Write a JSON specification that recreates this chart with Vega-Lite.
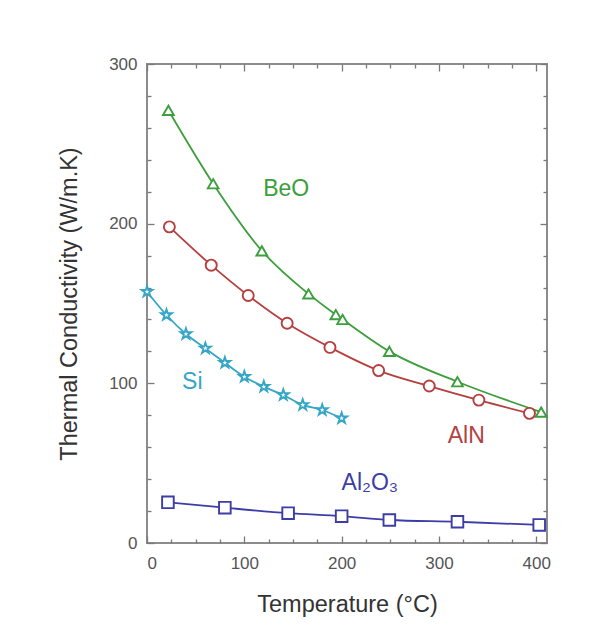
{
  "$schema": "https://vega.github.io/schema/vega-lite/v6.json",
  "width": 400,
  "height": 479,
  "autosize": {"type": "none"},
  "padding": {"left": 147, "top": 64, "right": 48, "bottom": 95},
  "background": "white",
  "config": {
    "font": "Liberation Sans",
    "view": {"stroke": "#8c8c8c", "strokeWidth": 2},
    "axis": {"domain": false, "grid": false, "tickColor": "#7a7a7a", "tickWidth": 1.3, "labelColor": "#555555", "labelFontSize": 17, "titleColor": "#333333", "titleFontSize": 23.5, "titleFontWeight": "normal"}
  },
  "datasets": {
    "series": [
      {"series": "BeO", "t": 22, "k": 271},
      {"series": "BeO", "t": 68, "k": 225},
      {"series": "BeO", "t": 118, "k": 183},
      {"series": "BeO", "t": 166, "k": 156},
      {"series": "BeO", "t": 194, "k": 143},
      {"series": "BeO", "t": 201, "k": 140},
      {"series": "BeO", "t": 249, "k": 120},
      {"series": "BeO", "t": 319, "k": 101},
      {"series": "BeO", "t": 405, "k": 82},
      {"series": "AlN", "t": 23, "k": 198},
      {"series": "AlN", "t": 66, "k": 174},
      {"series": "AlN", "t": 104, "k": 155},
      {"series": "AlN", "t": 144, "k": 137.6},
      {"series": "AlN", "t": 188, "k": 122.5},
      {"series": "AlN", "t": 238, "k": 108},
      {"series": "AlN", "t": 290, "k": 98.3},
      {"series": "AlN", "t": 341, "k": 89.5},
      {"series": "AlN", "t": 393, "k": 81.2},
      {"series": "Si", "t": 0, "k": 157.4},
      {"series": "Si", "t": 20, "k": 142.8},
      {"series": "Si", "t": 40, "k": 130.9},
      {"series": "Si", "t": 60, "k": 121.9},
      {"series": "Si", "t": 80, "k": 112.9},
      {"series": "Si", "t": 100, "k": 104.1},
      {"series": "Si", "t": 120, "k": 97.9},
      {"series": "Si", "t": 140, "k": 92.7},
      {"series": "Si", "t": 160, "k": 86.5},
      {"series": "Si", "t": 180, "k": 83.3},
      {"series": "Si", "t": 200, "k": 78.1},
      {"series": "Al₂O₃", "t": 21.5, "k": 25.5},
      {"series": "Al₂O₃", "t": 80, "k": 22.1},
      {"series": "Al₂O₃", "t": 145, "k": 18.7},
      {"series": "Al₂O₃", "t": 200, "k": 16.8},
      {"series": "Al₂O₃", "t": 249, "k": 14.4},
      {"series": "Al₂O₃", "t": 319, "k": 13.3},
      {"series": "Al₂O₃", "t": 403, "k": 11.3}
    ],
    "labels": [
      {"series": "BeO", "t": 143, "k": 222},
      {"series": "AlN", "t": 328, "k": 67},
      {"series": "Si", "t": 46.5, "k": 100.8},
      {"series": "Al₂O₃", "t": 229, "k": 37.6}
    ]
  },
  "layer": [
    {
      "data": {"name": "series"},
      "mark": {"type": "line", "interpolate": "monotone", "strokeWidth": 1.8},
      "encoding": {
        "x": {"field": "t", "type": "quantitative", "scale": {"domain": [0, 411], "nice": false, "zero": false},
          "axis": {"orient": "bottom", "values": [0,25,50,75,100,125,150,175,200,225,250,275,300,325,350,375,400], "labelExpr": "datum.value % 100 === 0 ? datum.label : ''", "tickSize": {"condition": {"test": "datum.value % 100 === 0", "value": -7}, "value": -4}, "labelPadding": 19, "title": "Temperature (°C)", "titlePadding": 21}},
        "y": {"field": "k", "type": "quantitative", "scale": {"domain": [0, 300], "nice": false},
          "axis": {"orient": "left", "values": [0,20,40,60,80,100,120,140,160,180,200,220,240,260,280,300], "labelExpr": "datum.value % 100 === 0 ? datum.label : ''", "tickSize": {"condition": {"test": "datum.value % 100 === 0", "value": -7}, "value": -4}, "labelPadding": 17, "title": "Thermal Conductivity (W/m.K)", "titlePadding": 27}},
        "color": {"field": "series", "type": "nominal", "scale": {"domain": ["BeO", "AlN", "Si", "Al₂O₃"], "range": ["#3c9e3c", "#b5403f", "#35a6c6", "#3d3da8"]}, "legend": null}
      }
    },
    {
      "data": {"name": "series"},
      "mark": {"type": "point", "fill": "white", "fillOpacity": 1, "strokeWidth": 1.9},
      "encoding": {
        "x": {"field": "t", "type": "quantitative", "scale": {"domain": [0, 411], "nice": false, "zero": false},
          "axis": {"orient": "top", "values": [0,25,50,75,100,125,150,175,200,225,250,275,300,325,350,375,400], "labels": false, "title": null, "tickSize": {"condition": {"test": "datum.value % 100 === 0", "value": -7}, "value": -4}}},
        "y": {"field": "k", "type": "quantitative", "scale": {"domain": [0, 300], "nice": false},
          "axis": {"orient": "right", "values": [0,20,40,60,80,100,120,140,160,180,200,220,240,260,280,300], "labels": false, "title": null, "tickSize": {"condition": {"test": "datum.value % 100 === 0", "value": -7}, "value": -4}}},
        "stroke": {"field": "series", "type": "nominal", "scale": {"domain": ["BeO", "AlN", "Si", "Al₂O₃"], "range": ["#3c9e3c", "#b5403f", "#35a6c6", "#3d3da8"]}, "legend": null},
        "shape": {"field": "series", "type": "nominal", "scale": {"domain": ["BeO", "AlN", "Si", "Al₂O₃"], "range": ["triangle-up", "circle", "M0,-1L0.2245,-0.309L0.951,-0.309L0.3633,0.118L0.5878,0.809L0,0.382L-0.5878,0.809L-0.3633,0.118L-0.951,-0.309L-0.2245,-0.309Z", "square"]}, "legend": null},
        "size": {"field": "series", "type": "nominal", "scale": {"domain": ["BeO", "AlN", "Si", "Al₂O₃"], "range": [115, 135, 140, 115]}, "legend": null}
      }
    },
    {
      "data": {"name": "labels"},
      "mark": {"type": "text", "fontSize": 23, "align": "center", "baseline": "middle"},
      "encoding": {
        "x": {"field": "t", "type": "quantitative", "scale": {"domain": [0, 411], "nice": false, "zero": false}, "axis": null},
        "y": {"field": "k", "type": "quantitative", "scale": {"domain": [0, 300], "nice": false}, "axis": null},
        "text": {"field": "series"},
        "color": {"field": "series", "type": "nominal", "scale": {"domain": ["BeO", "AlN", "Si", "Al₂O₃"], "range": ["#3c9e3c", "#b5403f", "#35a6c6", "#3d3da8"]}, "legend": null}
      }
    }
  ],
  "resolve": {"axis": {"x": "independent", "y": "independent"}}
}
